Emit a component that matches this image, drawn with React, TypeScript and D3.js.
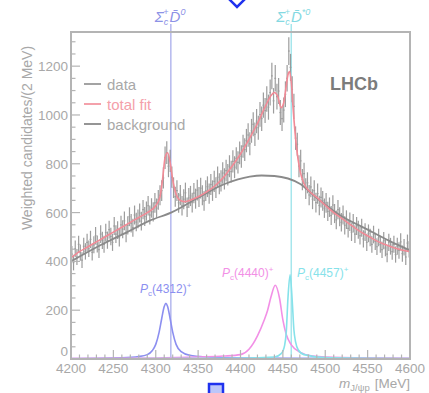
import React from "react";
import * as d3 from "d3";

// J/psi p invariant-mass spectrum, 2 MeV bins starting at 4200 MeV
const BIN_START = 4200;
const BIN_WIDTH = 2;
const dataCounts: number[] = [
  430, 395, 452, 418, 470, 436, 405, 462, 441, 478,
  452, 490, 437, 468, 505, 471, 448, 512, 486, 470,
  518, 487, 530, 502, 478, 545, 512, 528, 497, 550,
  532, 566, 515, 548, 583, 556, 538, 590, 561, 574,
  598, 565, 612, 584, 606, 628, 590, 619, 603, 640,
  618, 652, 671, 690, 742, 825, 846, 790, 812, 745,
  702, 665, 690, 640, 672, 628, 655, 681, 622, 660,
  668, 641, 680, 657, 692, 664, 700, 671, 648, 690,
  706, 678, 715, 690, 728, 702, 745, 718, 730, 762,
  738, 772, 755, 790, 768, 810, 786, 822, 806, 845,
  830, 872, 858, 895, 918, 882, 935, 962, 921, 975,
  948, 1002, 985, 1040, 1018, 1065, 1032, 1092, 1160, 1058,
  1150, 1075, 1098, 1010, 985, 1020, 1085, 1150, 1262, 1195,
  1105, 1035, 905, 880, 790, 812, 735, 760, 698, 722,
  672, 705, 655, 690, 641, 678, 629, 662, 648, 618,
  640, 605, 622, 588, 631, 596, 570, 612, 583, 560,
  590, 548, 571, 535, 562, 520, 556, 512, 545, 530,
  505, 538, 492, 520, 478, 515, 498, 470, 510, 482,
  460, 498, 470, 448, 485, 455, 430, 478, 462, 440,
  470, 428, 462, 445, 480, 432, 458, 418, 475, 450,
];

// Total fit
const fitMass = [
  4200, 4210, 4220, 4230, 4240, 4250, 4260, 4270, 4280, 4290, 4300, 4305,
  4308, 4311, 4314, 4317, 4320, 4324, 4328, 4334, 4340, 4350, 4360, 4370,
  4380, 4390, 4400, 4410, 4420, 4430, 4436, 4440, 4444, 4448, 4451, 4454,
  4456, 4458, 4460, 4462, 4466, 4470, 4475, 4480, 4490, 4500, 4510, 4520,
  4530, 4540, 4550, 4560, 4570, 4580, 4590, 4600,
];
const fitValue = [
  415, 440, 460, 480, 500, 520, 540, 560, 580, 600, 628, 665,
  735, 825, 845, 805, 735, 675, 652, 645, 650, 665, 685, 710,
  745, 790, 840, 900, 965, 1040, 1080, 1092, 1075, 1030, 1050, 1120,
  1165, 1178, 1130, 1030, 870, 775, 718, 692, 662, 630, 600, 575,
  550, 525, 505, 485, 470, 457, 447, 440,
];

// Background component
const bkgMass = [4200, 4234, 4265, 4293, 4318, 4352, 4382, 4411, 4425, 4440, 4470, 4490, 4517, 4550, 4575, 4600];
const bkgValue = [400, 465, 518, 567, 600, 665, 718, 747, 752, 750, 718, 660, 590, 530, 485, 445];

// Pentaquark signal components
const pc4312Mass = [4200, 4260, 4280, 4290, 4296, 4300, 4304, 4307, 4310, 4312, 4314, 4317, 4320, 4324, 4330, 4340, 4360, 4400, 4500, 4600];
const pc4312Value = [2, 5, 10, 18, 35, 60, 110, 165, 215, 228, 215, 165, 110, 60, 30, 15, 8, 4, 3, 2];

const pc4440Mass = [4200, 4300, 4350, 4380, 4400, 4410, 4420, 4428, 4432, 4436, 4441, 4446, 4450, 4454, 4460, 4470, 4485, 4520, 4600];
const pc4440Value = [2, 4, 8, 12, 18, 40, 95, 160, 200, 255, 302, 250, 160, 100, 58, 28, 12, 6, 3];

const pc4457Mass = [4200, 4400, 4440, 4448, 4452, 4454, 4456, 4458.5, 4461, 4463, 4465, 4468, 4475, 4500, 4600];
const pc4457Value = [1, 3, 8, 22, 55, 110, 250, 345, 240, 120, 70, 38, 18, 6, 2];

// Sigma_c+ D0bar and Sigma_c+ D*0bar thresholds
const thresholdMass = [4317.8, 4459.9];

const xTicksMajor = [4200, 4250, 4300, 4350, 4400, 4450, 4500, 4550, 4600];
const yTicksMajor = [0, 200, 400, 600, 800, 1000, 1200];

const W = 429;
const H = 393;
const PLOT = { left: 71, right: 410, top: 32, bottom: 359 };

const C_AXIS = "#b4b4b4";
const C_TEXT = "#a8a8a8";
const C_DATA = "#8c8c8c";
const C_FIT = "#f28a96";
const C_BKG = "#8a8a8a";
const C_4312 = "#8c8ff0";
const C_4440 = "#f290e6";
const C_4457 = "#86e2ea";
const FONT = "'Liberation Sans', Arial, sans-serif";

function PcLabel({ x, y, mass, color }: { x: number; y: number; mass: string; color: string }) {
  return (
    <text x={x} y={y} fill={color} fontSize={12} fontFamily={FONT}>
      <tspan fontStyle="italic">P</tspan>
      <tspan fontSize={8} dy={3}>c</tspan>
      <tspan dy={-3}>({mass})</tspan>
      <tspan fontSize={8} dy={-5}>+</tspan>
    </text>
  );
}

function ThresholdLabel({ x, y, star, color }: { x: number; y: number; star: boolean; color: string }) {
  return (
    <text x={x} y={y} fill={color} fontSize={15} fontFamily={FONT} fontStyle="italic">
      Σ<tspan fontSize={9} dy={3}>c</tspan>
      <tspan fontSize={9} dx={-5} dy={-10}>+</tspan>
      <tspan dy={7} dx={1}>D̄</tspan>
      <tspan fontSize={9} dy={-7}>{star ? "*0" : "0"}</tspan>
    </text>
  );
}

export default function App() {
  const x = d3.scaleLinear().domain([4200, 4600]).range([PLOT.left, PLOT.right]);
  const y = d3.scaleLinear().domain([0, 1340]).range([PLOT.bottom, PLOT.top]);

  const curve = (ms: number[], vs: number[]) =>
    d3
      .line<number>()
      .x((_, i) => x(ms[i]))
      .y((v) => y(v))
      .curve(d3.curveMonotoneX)(vs) || "";

  const xMinor = d3.range(4200, 4601, 10);
  const yMinor = d3.range(0, 1301, 50);

  const points = dataCounts.map((v, i) => ({
    m: BIN_START + BIN_WIDTH * (i + 0.5),
    v,
    e: 1.6 * Math.sqrt(v),
  }));

  return (
    <svg
      width={W}
      height={H}
      viewBox={`0 0 ${W} ${H}`}
      style={{ position: "absolute", left: 0, top: 0, background: "#fff" }}
    >
      {/* threshold lines */}
      <line x1={x(thresholdMass[0])} x2={x(thresholdMass[0])} y1={24} y2={PLOT.bottom} stroke="#b4b8ee" strokeWidth={1.5} />
      <line x1={x(thresholdMass[1])} x2={x(thresholdMass[1])} y1={24} y2={PLOT.bottom} stroke="#a6e6ec" strokeWidth={1.5} />
      <ThresholdLabel x={x(thresholdMass[0]) - 16} y={22} star={false} color="#8d92e6" />
      <ThresholdLabel x={x(thresholdMass[1]) - 15} y={22} star={true} color="#84d9e2" />

      {/* signal components */}
      <path d={curve(pc4312Mass, pc4312Value)} fill="none" stroke={C_4312} strokeWidth={1.6} />
      <path d={curve(pc4440Mass, pc4440Value)} fill="none" stroke={C_4440} strokeWidth={1.6} />
      <path d={curve(pc4457Mass, pc4457Value)} fill="none" stroke={C_4457} strokeWidth={1.6} />

      {/* data with error bars */}
      <g stroke={C_DATA} strokeWidth={1.2} opacity={0.85}>
        {points.map((p, i) => (
          <g key={i}>
            <line x1={x(p.m)} x2={x(p.m)} y1={y(p.v - p.e)} y2={y(p.v + p.e)} />
            <line x1={x(p.m - 1)} x2={x(p.m + 1)} y1={y(p.v)} y2={y(p.v)} />
          </g>
        ))}
      </g>

      {/* background and total fit */}
      <path d={curve(bkgMass, bkgValue)} fill="none" stroke={C_BKG} strokeWidth={1.8} />
      <path d={curve(fitMass, fitValue)} fill="none" stroke={C_FIT} strokeWidth={1.6} />

      {/* frame */}
      <rect
        x={PLOT.left}
        y={PLOT.top}
        width={PLOT.right - PLOT.left}
        height={PLOT.bottom - PLOT.top}
        fill="none"
        stroke={C_AXIS}
        strokeWidth={2}
      />

      {/* ticks */}
      <g stroke={C_AXIS} strokeWidth={1.2}>
        {xMinor.map((m) => (
          <line key={m} x1={x(m)} x2={x(m)} y1={PLOT.bottom} y2={PLOT.bottom - (m % 50 === 0 ? 9 : 4.5)} />
        ))}
        {yMinor.map((v) => (
          <line key={v} x1={PLOT.left} x2={PLOT.left + (v % 200 === 0 ? 9 : 4.5)} y1={y(v)} y2={y(v)} />
        ))}
      </g>
      <g fill={C_TEXT} fontSize={13.5} fontFamily={FONT}>
        {xTicksMajor.map((m) => (
          <text key={m} x={x(m)} y={373} textAnchor="middle">
            {m}
          </text>
        ))}
        {yTicksMajor.map((v) => (
          <text key={v} x={PLOT.left - 3} y={y(v) + (v === 0 ? -3 : 5)} textAnchor="end">
            {v}
          </text>
        ))}
      </g>

      {/* axis titles */}
      <text
        transform={`translate(32, 138) rotate(-90)`}
        textAnchor="middle"
        fill={C_TEXT}
        fontSize={14}
        fontFamily={FONT}
      >
        Weighted candidates/(2 MeV)
      </text>
      <text x={PLOT.right} y={388} textAnchor="end" fill={C_TEXT} fontSize={13.5} fontFamily={FONT}>
        <tspan fontStyle="italic">m</tspan>
        <tspan fontSize={9.5} dy={2.5}>J/ψp</tspan>
        <tspan dy={-2.5} dx={5}>[MeV]</tspan>
      </text>

      {/* legend */}
      <g fontSize={15} fontFamily={FONT}>
        <line x1={84} x2={101} y1={84} y2={84} stroke={C_DATA} strokeWidth={1.6} />
        <text x={107} y={90} fill={C_TEXT}>data</text>
        <line x1={84} x2={101} y1={104} y2={104} stroke={C_FIT} strokeWidth={1.6} />
        <text x={107} y={110} fill="#f4a0aa">total fit</text>
        <line x1={84} x2={101} y1={124} y2={124} stroke={C_BKG} strokeWidth={1.8} />
        <text x={107} y={130} fill={C_TEXT}>background</text>
      </g>
      <text x={330} y={90} fill="#7c7c7c" fontSize={18} fontWeight="bold" fontFamily={FONT}>
        LHCb
      </text>

      {/* component labels */}
      <PcLabel x={140} y={293} mass="4312" color={C_4312} />
      <PcLabel x={222} y={277} mass="4440" color={C_4440} />
      <PcLabel x={297} y={277} mass="4457" color={C_4457} />

      {/* selection handles */}
      <polygon points="229,-1 237,-9 245,-1 237,7" fill="#fff" stroke="#1f32ee" strokeWidth={2.5} />
      <rect x={209} y={384} width={14} height={14} fill="#bcc6fa" stroke="#1f32ee" strokeWidth={2.5} />
    </svg>
  );
}
